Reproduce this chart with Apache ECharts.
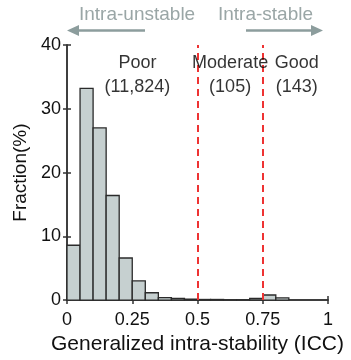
<!DOCTYPE html>
<html>
<head>
<meta charset="utf-8">
<script src="https://cdn.jsdelivr.net/npm/echarts@6/dist/echarts.min.js"></script>
<style>
  html, body { margin: 0; padding: 0; background: #fff; }
  #chart { width: 351px; height: 360px; }
</style>
</head>
<body>
<div id="chart"></div>
<script>
// histogram bins (ICC), width 0.05
const binStart = [0, 0.05, 0.1, 0.15, 0.2, 0.25, 0.3, 0.35, 0.4, 0.45, 0.5, 0.55, 0.6, 0.65, 0.7, 0.75, 0.8];
const fraction = [8.6, 33.2, 27.0, 16.4, 6.6, 3.0, 1.15, 0.4, 0.25, 0.15, 0.1, 0.1, 0.03, 0.05, 0.25, 0.8, 0.35];
const binWidth = 0.05;
const cutoffs = [0.5, 0.75];
const xTicks = [0, 0.25, 0.5, 0.75, 1];
const groups = [
  { name: "Poor", count: "(11,824)", x: 0.27 },
  { name: "Moderate", count: "(105)", x: 0.625 },
  { name: "Good", count: "(143)", x: 0.88 },
];

const FONT = "Liberation Sans, Arial, sans-serif";
const chart = echarts.init(document.getElementById("chart"));

const data = binStart.map((s, i) => [s, s + binWidth, fraction[i]]);

function xLabel(v) {
  return xTicks.indexOf(v) >= 0 ? String(v) : "";
}

const option = {
  animation: false,
  grid: { left: 67, right: 23, top: 45, bottom: 55 },
  xAxis: [
    {
      type: "value",
      min: 0,
      max: 1,
      interval: 0.25,
      name: "Generalized intra-stability (ICC)",
      nameLocation: "middle",
      nameGap: 30,
      nameTextStyle: { fontFamily: FONT, fontSize: 21, color: "#111" },
      axisLine: { show: true, lineStyle: { color: "#333", width: 1.5 } },
      axisTick: { show: true, length: 4, lineStyle: { color: "#333", width: 1.5 } },
      axisLabel: { fontFamily: FONT, fontSize: 18, color: "#111", margin: 11, formatter: xLabel },
      splitLine: { show: false },
    },
    {
      type: "value",
      position: "top",
      min: 0,
      max: 1,
      interval: 0.25,
      axisLine: { show: true, lineStyle: { color: "#333", width: 1.5 } },
      axisTick: { show: true, length: 4, lineStyle: { color: "#333", width: 1.5 } },
      axisLabel: { show: false },
      splitLine: { show: false },
    },
  ],
  yAxis: [
    {
      type: "value",
      min: 0,
      max: 40,
      interval: 10,
      name: "Fraction(%)",
      nameLocation: "middle",
      nameGap: 36,
      nameTextStyle: { fontFamily: FONT, fontSize: 19, color: "#111" },
      axisLine: { show: true, lineStyle: { color: "#333", width: 1.5 } },
      axisTick: { show: true, length: 4, lineStyle: { color: "#333", width: 1.5 } },
      axisLabel: { fontFamily: FONT, fontSize: 18, color: "#111", margin: 6 },
      splitLine: { show: false },
    },
    {
      type: "value",
      position: "right",
      min: 0,
      max: 40,
      interval: 10,
      axisLine: { show: true, lineStyle: { color: "#333", width: 1.5 } },
      axisTick: { show: true, length: 4, lineStyle: { color: "#333", width: 1.5 } },
      axisLabel: { show: false },
      splitLine: { show: false },
    },
  ],
  series: [
    {
      type: "custom",
      xAxisIndex: 0,
      yAxisIndex: 0,
      data: data,
      renderItem: function (params, api) {
        const p0 = api.coord([api.value(0), 0]);
        const p1 = api.coord([api.value(1), api.value(2)]);
        return {
          type: "rect",
          shape: { x: p0[0], y: p1[1], width: p1[0] - p0[0], height: p0[1] - p1[1] },
          style: { fill: "#c6d0d0", stroke: "#2b2b2b", lineWidth: 1.3 },
        };
      },
      markLine: {
        silent: true,
        symbol: "none",
        label: { show: false },
        lineStyle: { color: "#ee3333", type: [7, 5], width: 2 },
        data: cutoffs.map((c) => ({ xAxis: c })),
      },
      z: 2,
    },
    {
      type: "scatter",
      symbolSize: 0,
      data: groups.map((g) => [g.x, 35.3]),
      label: {
        show: true,
        position: "inside",
        fontFamily: FONT,
        fontSize: 18,
        lineHeight: 24,
        color: "#000",
        formatter: function (p) {
          const g = groups[p.dataIndex];
          return g.name + "\n" + g.count;
        },
      },
      z: 5,
    },
  ],
  graphic: [
    { type: "text", left: 79, top: 5, style: { text: "Intra-unstable", fontFamily: FONT, fontSize: 19, fill: "#9aa6a6" } },
    { type: "text", left: 218, top: 5, style: { text: "Intra-stable", fontFamily: FONT, fontSize: 19, fill: "#9aa6a6" } },
    { type: "line", shape: { x1: 77, y1: 30.5, x2: 145, y2: 30.5 }, style: { stroke: "#8c9d9d", lineWidth: 2.5 } },
    { type: "polygon", shape: { points: [[67, 30.5], [79, 25], [79, 36]] }, style: { fill: "#8c9d9d" } },
    { type: "line", shape: { x1: 246, y1: 30.5, x2: 313, y2: 30.5 }, style: { stroke: "#8c9d9d", lineWidth: 2.5 } },
    { type: "polygon", shape: { points: [[323, 30.5], [311, 25], [311, 36]] }, style: { fill: "#8c9d9d" } },
  ],
};

chart.setOption(option);
</script>
</body>
</html>
